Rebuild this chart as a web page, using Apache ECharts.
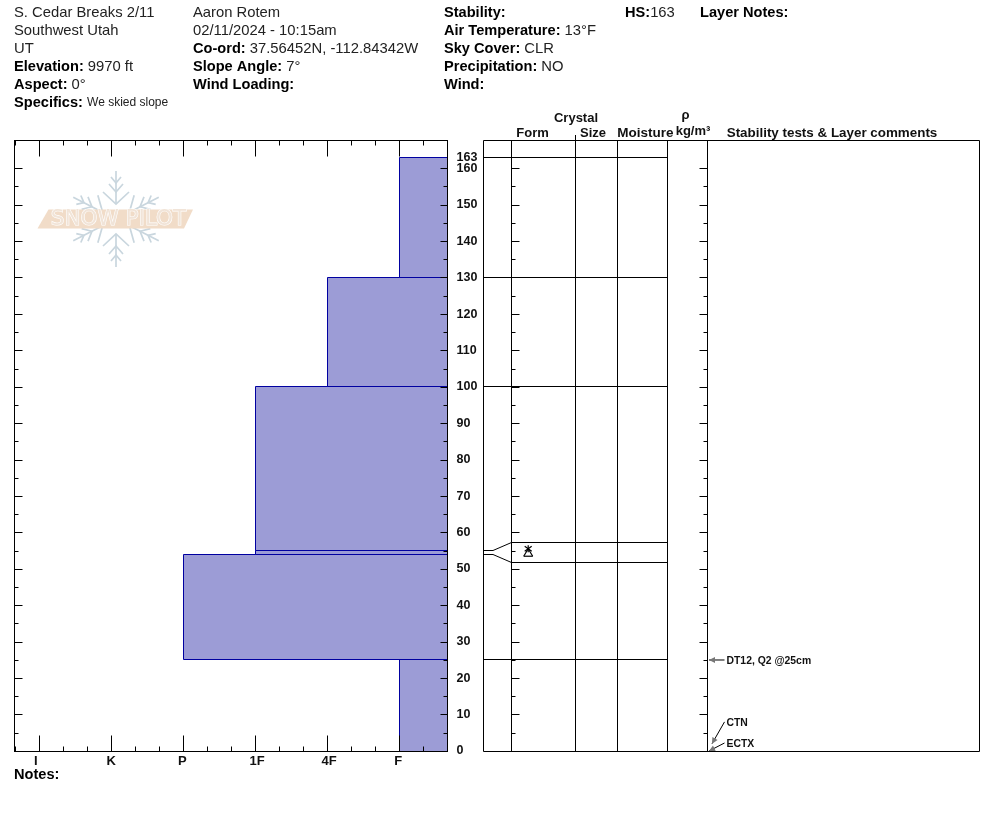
<!DOCTYPE html>
<html><head><meta charset="utf-8">
<style>html,body{margin:0;padding:0;background:#fff}#c{width:994px;height:840px}</style>
<script src="https://cdn.jsdelivr.net/npm/echarts@6/dist/echarts.min.js"></script>
</head><body><div id="c"></div>
<script>
// ---- data ----
var hardnessLabels = ['I','K','P','1F','4F','F'];
var hardnessTicks = [0,3,6,9,12,15];            // thirds of a hardness step
var hardnessMinorTicks = [-1,1,2,4,5,7,8,10,11,13,14,16];
var layerBottoms = [0,25,54,55,100,130];
var layerTops = [25,54,55,100,130,163];
var layerHardness = [15,6,9,9,12,15];
var depthMajor = [0,10,20,30,40,50,60,70,80,90,100,110,120,130,140,150,160];
var depthMinor = [5,15,25,35,45,55,65,75,85,95,105,115,125,135,145,155];
var snowHeight = [163];
var boundaryLines = [25,100,130,163];
var fanLayers = [[55,57.3],[54,51.8]];
var testLabels = ['DT12, Q2 @25cm','CTN','ECTX'];
var testDepths = [25,2,0];
var testLabelDepths = [25,8,2.2];
var headerBlocks = [
 [14,13,'','S. Cedar Breaks 2/11'],[14,31,'','Southwest Utah'],[14,49,'','UT'],
 [14,67,'Elevation:','9970 ft'],[14,85,'Aspect:','0°'],[14,103,'Specifics:','{s|We skied slope}'],
 [193,13,'','Aaron Rotem'],[193,31,'','02/11/2024 - 10:15am'],[193,49,'Co-ord:','37.56452N, -112.84342W'],
 [193,67,'Slope Angle:','7°'],[193,85,'Wind Loading:',''],
 [444,13,'Stability:',''],[444,31,'Air Temperature:','13°F'],[444,49,'Sky Cover:','CLR'],
 [444,67,'Precipitation:','NO'],[444,85,'Wind:',''],
 [625,13,'HS:','163'],[700,13,'Layer Notes:',''],[14,775,'Notes:','']
];
var columnHeads = [['Crystal',576,118,13],['Form',532.5,133,13],['Size',593,133,13],['Moisture',645.5,133,13.5],['ρ',685.5,115.5,13],['kg/m³',693,131,13],['Stability tests & Layer comments',832,133,13.4]];
var columnEdges = [28,92,134,184,224];

// ---- layout ----
var F='"Liberation Sans",Arial,sans-serif';
var TOP=140.5,H=611,YMIN=-0.137,YMAX=167.70,INK='#000';
var grids=[
 {left:14.5,top:TOP,width:433,height:H,show:true,borderColor:INK,borderWidth:1,backgroundColor:'#fff',z:0},
 {left:511.5,top:TOP,width:196,height:H,show:false},
 {left:483.5,top:TOP,width:496,height:H,show:true,borderColor:INK,borderWidth:1,backgroundColor:'transparent'}
];
var labelNudge=[-0.14,0,-0.04,0.08,0.08,-0.04];
var labelVals=hardnessTicks.map(function(v,i){return v+labelNudge[i];});
function xA(grid,pos,vals,len,labels){return {type:'value',gridIndex:grid,position:pos,min:-1.03,max:17.01,z:6,
  axisLine:{show:true,onZero:false,lineStyle:{color:INK,width:1}},splitLine:{show:false},
  axisTick:{show:true,inside:true,length:len,customValues:vals,lineStyle:{color:INK,width:1}},
  axisLabel:labels?{show:true,customValues:labelVals,hideOverlap:false,showMinLabel:true,showMaxLabel:true,margin:3,color:'#111',fontFamily:F,fontWeight:'bold',fontSize:13,
     formatter:function(v){return hardnessLabels[labelVals.indexOf(v)];}}:{show:false}};}
function yA(grid,pos,vals,len,labels){return {type:'value',gridIndex:grid,position:pos,min:YMIN,max:YMAX,z:6,
  axisLine:{show:true,onZero:false,lineStyle:{color:INK,width:1}},splitLine:{show:false},
  axisTick:{show:len>0,inside:true,length:len,customValues:vals,lineStyle:{color:INK,width:1}},
  axisLabel:labels?{show:true,customValues:labels,hideOverlap:false,showMinLabel:true,showMaxLabel:true,margin:9,color:'#111',fontFamily:F,fontWeight:'bold',fontSize:12.5,align:'left',padding:[3,0,0,0],
     formatter:function(v){return String(v);}}:{show:false}};}
var xAxes=[xA(0,'bottom',hardnessTicks,16,true),xA(0,'bottom',hardnessMinorTicks,5),xA(0,'top',hardnessTicks,16),xA(0,'top',hardnessMinorTicks,5),
 {type:'value',gridIndex:1,min:0,max:1,show:false},
 {type:'value',gridIndex:2,min:0,max:496,show:false}];
var yAxes=[yA(0,'left',depthMajor,8),yA(0,'left',depthMinor,4),yA(0,'right',depthMajor,7,depthMajor),yA(0,'right',depthMinor,4),
 yA(1,'left',depthMajor,8),yA(1,'left',depthMinor,4),yA(1,'right',depthMajor,8),yA(1,'right',depthMinor,4),
 {type:'value',gridIndex:2,min:YMIN,max:YMAX,show:false},
 yA(0,'right',snowHeight,0,snowHeight)];

function seg(a,b,c,w){return {type:'line',shape:{x1:a[0],y1:a[1],x2:b[0],y2:b[1]},style:{stroke:c||INK,lineWidth:w||1}};}
function snap(v){return Math.floor(v)+.5;}
var series=[];
// hardness bars
series.push({type:'custom',xAxisIndex:0,yAxisIndex:0,z:3,silent:true,clip:false,
 data:layerTops.map(function(t,i){return [layerHardness[i],layerBottoms[i],t];}),
 renderItem:function(p,api){
  var a=api.coord([api.value(0),api.value(2)]),b=api.coord([17.01,api.value(1)]);
  var x=Math.floor(a[0])+.5,y=snap(a[1]),y2=snap(b[1]);
  return {type:'rect',shape:{x:x,y:y,width:b[0]-x,height:y2-y},
    style:{fill:'#9c9cd6',stroke:'#0000a0',lineWidth:1}};
 }});
// panel lines
series.push({type:'custom',xAxisIndex:5,yAxisIndex:8,z:4,silent:true,clip:false,
 data:columnEdges.map(function(x){return [x];}),
 renderItem:function(p,api){var a=api.coord([api.value(0),YMIN]),b=api.coord([api.value(0),YMAX]);return seg([a[0],a[1]],[b[0],b[1]]);}});
series.push({type:'custom',xAxisIndex:5,yAxisIndex:8,z:4,silent:true,
 data:boundaryLines.map(function(y){return [y];}),
 renderItem:function(p,api){var a=api.coord([0,api.value(0)]),b=api.coord([184,api.value(0)]);
   var y=snap(a[1]);return seg([a[0],y],[b[0],y]);}});
series.push({type:'custom',xAxisIndex:5,yAxisIndex:8,z:4,silent:true,
 data:fanLayers,
 renderItem:function(p,api){var l=api.value(0),r=api.value(1);
  var a=api.coord([0,l]),k=api.coord([9.5,l]),m=api.coord([28,r]),e=api.coord([184,r]);
  var ym=snap(m[1]),ya=snap(a[1]);
  return {type:'group',children:[seg([a[0],ya],[k[0],ya]),seg([k[0],ya],[m[0],ym]),seg([m[0],ym],[e[0],ym])]};}});
// grain form symbol
series.push({type:'custom',xAxisIndex:5,yAxisIndex:8,z:5,silent:true,data:[[44.7,54.6]],
 renderItem:function(p,api){var c=api.coord([api.value(0),api.value(1)]),x=c[0],y=c[1];
  return {type:'group',children:[
   seg([x-4.5,y+4],[x+4.5,y+4],INK,1.2),seg([x-4.5,y+4],[x,y-3.5],INK,1.2),seg([x+4.5,y+4],[x,y-3.5],INK,1.2),
   seg([x-3.5,y-6],[x+3.5,y-1],INK,1.2),seg([x+3.5,y-6],[x-3.5,y-1],INK,1.2),seg([x,y-7],[x,y],INK,1.2)]};}});
// stability test arrows
series.push({type:'custom',xAxisIndex:5,yAxisIndex:8,z:5,silent:true,clip:false,
 data:testLabels.map(function(t,i){return [testDepths[i],testLabelDepths[i],i];}),
 renderItem:function(p,api){
  var tgt=api.coord([225.5+(api.value(2)==1?3:0),api.value(0)]),lab=api.coord([241,api.value(1)]);
  var dx=tgt[0]-lab[0],dy=tgt[1]-lab[1],n=Math.sqrt(dx*dx+dy*dy)||1;dx/=n;dy/=n;
  var bx=tgt[0]-dx*6,by=tgt[1]-dy*6;
  return {type:'group',children:[
    seg([lab[0],lab[1]],[tgt[0],tgt[1]]),
    {type:'polygon',shape:{points:[[tgt[0],tgt[1]],[bx-dy*3,by+dx*3],[bx+dy*3,by-dx*3]]},style:{fill:'#777'}},
    {type:'text',x:lab[0]+2,y:lab[1]+1,style:{text:testLabels[api.value(2)],font:'bold 10.4px '+F,fill:'#111',textVerticalAlign:'middle'}}
  ]};}});

// graphic: header, column heads, logo
var g=[];
headerBlocks.forEach(function(b){
 var parts=[];if(b[2])parts.push('{b|'+b[2]+'}');if(b[3])parts.push(b[3].charAt(0)=='{'?b[3]:'{r|'+b[3]+'}');
 g.push({type:'text',x:b[0],y:b[1],z:10,style:{text:parts.join(b[2]=='HS:'?'':' '),fontFamily:F,fontSize:14.7,textVerticalAlign:'middle',fill:'#111',
   rich:{b:{fontFamily:F,fontSize:14.6,fontWeight:'bold',fill:'#000'},r:{fontFamily:F,fontSize:14.8,fill:'#222'},s:{fontFamily:F,fontSize:12,fill:'#222'}}}});
});
columnHeads.forEach(function(c){g.push({type:'text',x:c[1],y:c[2],z:10,style:{text:c[0],font:'bold '+c[3]+'px '+F,fill:'#111',textAlign:'center',textVerticalAlign:'middle'}});});
g.push({type:'line',z:10,shape:{x1:575.5,y1:135,x2:575.5,y2:140},style:{stroke:INK,lineWidth:1}});
// logo
var lc=[116,219],flake='#c9d6de';
[0,63,117,180,243,297].forEach(function(deg){
 var t=deg*Math.PI/180;
 function P(u,r){return [lc[0]+u*Math.cos(t)+r*Math.sin(t),lc[1]+u*Math.sin(t)-r*Math.cos(t)];}
 [[P(0,15),P(0,48)],[P(-13,27),P(0,15),P(13,27)],[P(-7,35),P(0,27),P(7,35)],[P(-5,42),P(0,36),P(5,42)]].forEach(function(pts){
  g.push({type:'polyline',z:1,shape:{points:pts},style:{stroke:flake,lineWidth:1.7,fill:null}});
 });
});
g.push({type:'polygon',z:2,shape:{points:[[48.5,209.5],[193,209.5],[184,228.5],[37.5,228.5]]},style:{fill:'#f1dcc8'}});
g.push({type:'text',x:118.5,y:219.5,z:3,style:{text:'SNOW PILOT',font:'21.5px "DejaVu Sans"',fill:'#f1e4d8',stroke:'#fff',lineWidth:1.2,textAlign:'center',textVerticalAlign:'middle'}});

var chart=echarts.init(document.getElementById('c'),null,{renderer:'canvas'});
chart.setOption({animation:false,backgroundColor:'#fff',grid:grids,xAxis:xAxes,yAxis:yAxes,series:series,graphic:{elements:g}});
</script></body></html>
